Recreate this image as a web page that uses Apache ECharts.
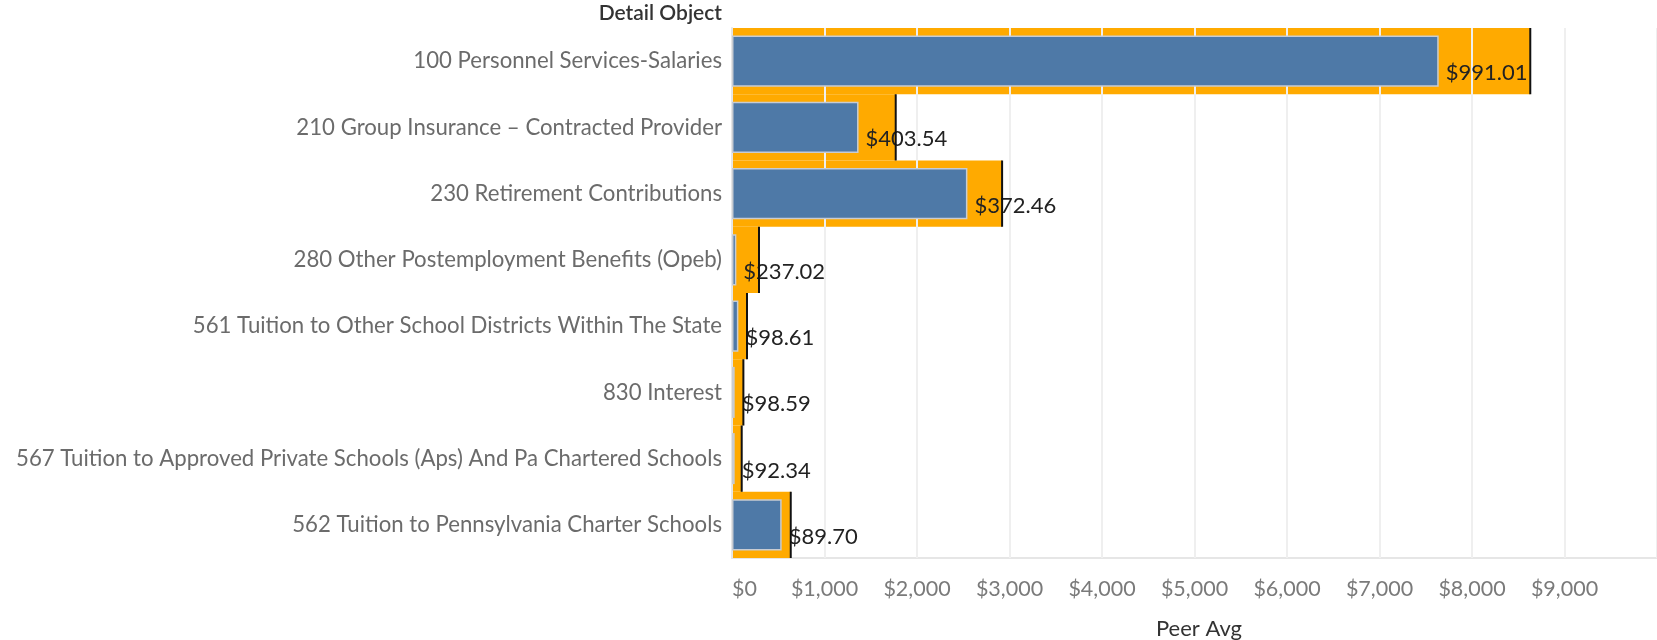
<!DOCTYPE html>
<html>
<head>
<meta charset="utf-8">
<script src="https://cdn.jsdelivr.net/npm/echarts@6/dist/echarts.min.js"></script>
<style>
html,body{margin:0;padding:0;background:#fff;}
#chart{width:1657px;height:640px;}
</style>
</head>
<body>
<div id="chart"></div>
<script>
const categories = [
  '100 Personnel Services-Salaries',
  '210 Group Insurance \u2013 Contracted Provider',
  '230 Retirement Contributions',
  '280 Other Postemployment Benefits (Opeb)',
  '561 Tuition to Other School Districts Within The State',
  '830 Interest',
  '567 Tuition to Approved Private Schools (Aps) And Pa Chartered Schools',
  '562 Tuition to Pennsylvania Charter Schools'
];
const peerAvg = [8630, 1770, 2920, 292, 162, 123, 105, 635];
const districtValue = [7640, 1368, 2545, 47, 69, 29, 29, 537];
const gapLabels = ['$991.01', '$403.54', '$372.46', '$237.02', '$98.61', '$98.59', '$92.34', '$89.70'];
const xTicks = {min: 0, max: 10000, interval: 1000};

const fontFam = 'Lato, "Open Sans", sans-serif';
const chart = echarts.init(document.getElementById('chart'));
chart.setOption({
  animation: false,
  backgroundColor: '#ffffff',
  grid: {left: 732, right: 0, top: 28, bottom: 82, containLabel: false, outerBoundsMode: 'none'},
  graphic: [{
    type: 'text', right: 1657 - 722, top: 3,
    style: {text: 'Detail Object', font: '600 21px ' + fontFam, fill: '#333333', textAlign: 'right'}
  }],
  xAxis: [{
    type: 'value', min: xTicks.min, max: xTicks.max, interval: xTicks.interval,
    position: 'bottom',
    name: 'Peer Avg', nameLocation: 'middle', nameGap: 60,
    nameTextStyle: {fontSize: 22, color: '#333333', fontFamily: fontFam, padding: [0, 0, 0, 9]},
    axisLine: {show: true, lineStyle: {color: '#e6e6e6', width: 2}},
    axisTick: {show: false},
    splitLine: {show: false},
    axisLabel: {
      fontSize: 21.5, color: '#7a7a7a', fontFamily: fontFam, margin: 20,
      showMaxLabel: false, alignMinLabel: 'left',
      formatter: v => '$' + v.toLocaleString('en-US')
    }
  }, {
    type: 'value', min: xTicks.min, max: xTicks.max, interval: xTicks.interval,
    position: 'bottom', z: 2,
    axisLine: {show: false}, axisTick: {show: false}, axisLabel: {show: false},
    splitLine: {show: true, lineStyle: {color: '#efefef', width: 2}}
  }],
  yAxis: [{
    type: 'category', inverse: true, data: categories, z: 2,
    axisLine: {show: true, lineStyle: {color: '#e6e6e6', width: 2}},
    axisTick: {show: false},
    axisLabel: {fontSize: 22.2, color: '#6b6b6b', fontFamily: fontFam, margin: 10}
  }, {
    type: 'category', inverse: true, data: categories, show: false
  }],
  series: [{
    type: 'bar', name: 'Peer Avg', data: peerAvg, z: 1, yAxisIndex: 0,
    barWidth: '100%',
    itemStyle: {color: '#ffaa00'}
  }, {
    type: 'bar', name: 'District', data: districtValue, z: 3, yAxisIndex: 1,
    barWidth: '77%',
    itemStyle: {color: '#4e79a7', borderColor: '#c8ccd2', borderWidth: 1.5},
    label: {
      show: true, position: 'right', distance: 7, offset: [0, 12],
      fontSize: 22, color: '#222222', fontFamily: fontFam,
      formatter: p => gapLabels[p.dataIndex]
    }
  }, {
    type: 'custom', name: 'Ref', z: 4, yAxisIndex: 0,
    data: peerAvg.map((v, i) => [v, i]),
    encode: {x: 0, y: 1},
    renderItem: (params, api) => {
      const c = api.coord([api.value(0), api.value(1)]);
      const h = api.size([0, 1])[1];
      return {type: 'line', shape: {x1: c[0], y1: c[1] - h / 2, x2: c[0], y2: c[1] + h / 2},
              style: {stroke: '#111111', lineWidth: 2}};
    }
  }]
});
</script>
</body>
</html>
